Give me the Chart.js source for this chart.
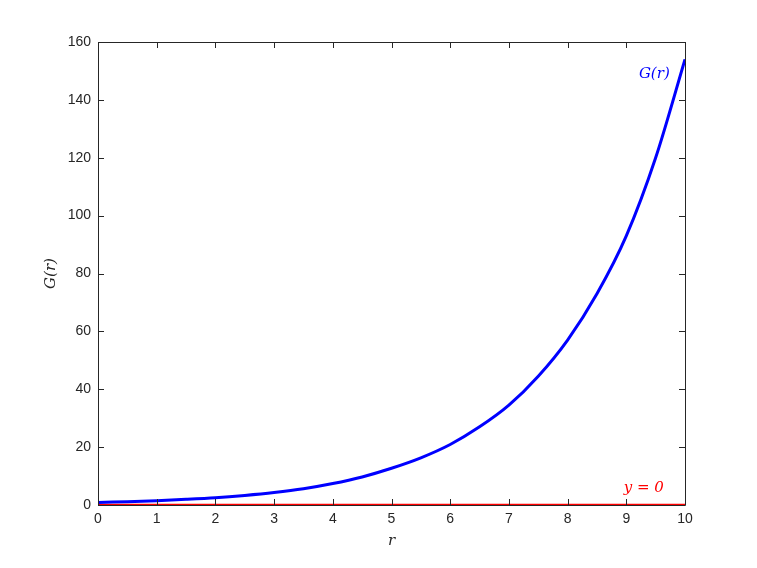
<!DOCTYPE html>
<html>
<head>
<meta charset="utf-8">
<script src="https://cdn.jsdelivr.net/npm/chart.js@4.4.0/dist/chart.umd.min.js"></script>
<style>
  html, body { margin: 0; padding: 0; background: #fff; }
  #wrap { width: 757px; height: 568px; }
</style>
</head>
<body>
<div id="wrap"><canvas id="chart" width="757" height="568"></canvas></div>
<script>
// values
const rVals = [0, 0.5, 1, 1.5, 2, 2.5, 3, 3.5, 4, 4.5, 5, 5.5, 6, 6.5, 7, 7.5, 8, 8.5, 9, 9.5, 10];
const gVals = [0.9, 1.15, 1.5, 1.95, 2.5, 3.3, 4.3, 5.6, 7.4, 9.7, 12.7, 16.3, 20.9, 27, 34.5, 44.5, 57, 73, 93, 120, 154];
const zeroR = [0, 10];
const zeroY = [0, 0];
const xTicks = [0, 1, 2, 3, 4, 5, 6, 7, 8, 9, 10];
const yTicks = [0, 20, 40, 60, 80, 100, 120, 140, 160];

const ctx = document.getElementById('chart').getContext('2d');

const toPts = (xs, ys) => xs.map((x, i) => ({ x: x, y: ys[i] }));

// box + inward ticks like matlab
const boxPlugin = {
  id: 'box',
  afterDraw(chart) {
    const c = chart.ctx, a = chart.chartArea;
    const xs = chart.scales.x, ys = chart.scales.y;
    c.save();
    c.strokeStyle = '#262626';
    c.lineWidth = 1;
    c.beginPath();
    c.rect(a.left + 0.5, a.top + 0.5, a.right - a.left, a.bottom - a.top);
    xTicks.forEach(v => {
      const px = Math.round(xs.getPixelForValue(v)) + 0.5;
      c.moveTo(px, a.bottom); c.lineTo(px, a.bottom - 6);
      c.moveTo(px, a.top); c.lineTo(px, a.top + 6);
    });
    yTicks.forEach(v => {
      const py = Math.round(ys.getPixelForValue(v)) + 0.5;
      c.moveTo(a.left, py); c.lineTo(a.left + 6, py);
      c.moveTo(a.right, py); c.lineTo(a.right - 6, py);
    });
    c.stroke();
    // text labels on the curves
    c.font = 'italic 15px "DejaVu Serif", "Liberation Serif", serif';
    c.textAlign = 'right';
    c.textBaseline = 'middle';
    c.fillStyle = '#0000ff';
    c.fillText('G(r)', xs.getPixelForValue(9.74), ys.getPixelForValue(149));
    c.fillStyle = '#ff0000';
    c.fillText('y = 0', xs.getPixelForValue(9.64), ys.getPixelForValue(5.9));
    c.restore();
  }
};

new Chart(ctx, {
  type: 'scatter',
  data: {
    datasets: [
      {
        label: 'G(r)',
        data: toPts(rVals, gVals),
        showLine: true,
        borderColor: '#0000ff',
        borderWidth: 3,
        pointRadius: 0,
        tension: 0.3,
        fill: false
      },
      {
        label: 'y = 0',
        data: toPts(zeroR, zeroY),
        showLine: true,
        borderColor: '#ff0000',
        borderWidth: 2.5,
        pointRadius: 0,
        fill: false
      }
    ]
  },
  options: {
    responsive: false,
    animation: false,
    layout: { padding: { top: 42, right: 72, bottom: 18, left: 42 } },
    plugins: { legend: { display: false }, tooltip: { enabled: false } },
    scales: {
      x: {
        type: 'linear',
        min: 0, max: 10,
        afterBuildTicks: s => { s.ticks = xTicks.map(v => ({ value: v })); },
        afterFit: s => { s.height = 45; },
        grid: { display: false, drawTicks: false },
        border: { display: false },
        ticks: { color: '#262626', font: { family: 'Liberation Sans, Arial, sans-serif', size: 14 }, padding: 6, maxRotation: 0 },
        title: { display: true, text: 'r', color: '#262626', font: { family: 'DejaVu Serif, serif', style: 'italic', size: 15 }, padding: 0 }
      },
      y: {
        type: 'linear',
        min: 0, max: 160,
        afterBuildTicks: s => { s.ticks = yTicks.map(v => ({ value: v })); },
        afterFit: s => { s.width = 56; },
        grid: { display: false, drawTicks: false },
        border: { display: false },
        ticks: { color: '#262626', font: { family: 'Liberation Sans, Arial, sans-serif', size: 14 }, padding: 7 },
        title: { display: true, text: 'G(r)', color: '#262626', font: { family: 'DejaVu Serif, serif', style: 'italic', size: 15 }, padding: 0 }
      }
    }
  },
  plugins: [boxPlugin]
});
</script>
</body>
</html>
